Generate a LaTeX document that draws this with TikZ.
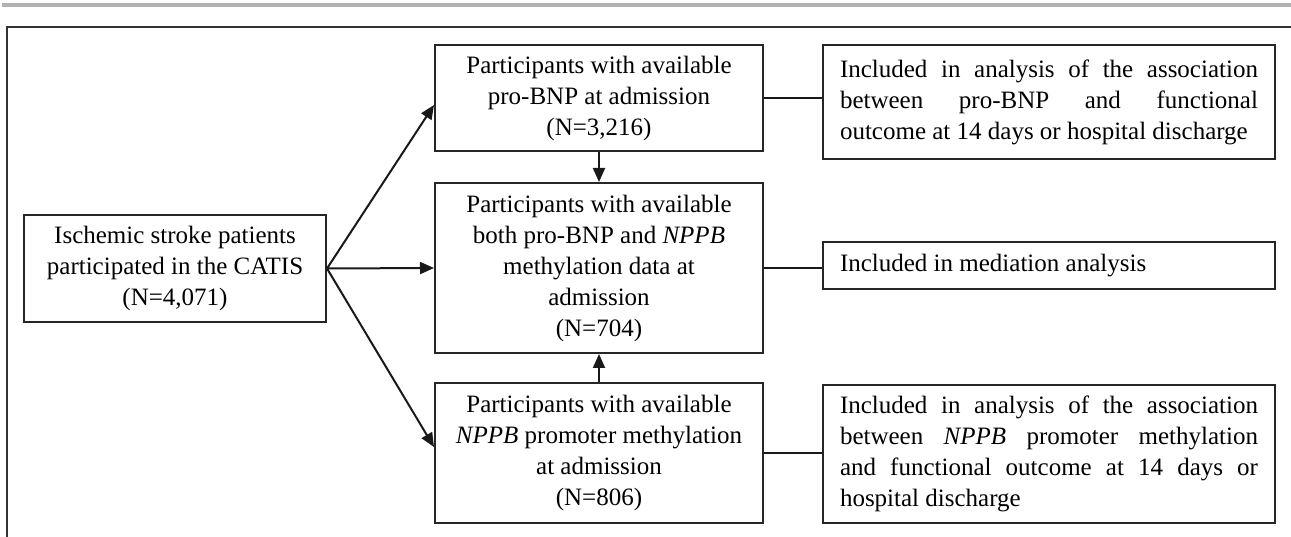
\documentclass[tikz,border=0pt]{standalone}
\usepackage{fontspec}
\setmainfont{Liberation Serif}
\usetikzlibrary{arrows.meta}
\usetikzlibrary{calc}
\usetikzlibrary{positioning}

\begin{document}
\begin{tikzpicture}[x=1pt, y=-1pt,
    box/.style={rectangle, draw=black!85, line width=2pt, align=center, inner sep=0pt, font=\fontsize{25}{31}\selectfont},
    note/.style={rectangle, draw=black!85, line width=2pt, text width=418pt, inner xsep=17pt, inner ysep=0pt, minimum width=452pt, align=justify, font=\fontsize{25}{31}\selectfont},
    flow/.style={line width=2pt, black!90, -{Triangle[length=14pt,width=12pt]}},
    link/.style={line width=2pt, black!90}]
    \useasboundingbox (0,0) rectangle (1291,537);
    \fill [black!30] (2,3) rectangle (1291,7);
    \draw [line width=2.5pt, black!80] (7,537) -- (7,27) -- (1291,27);

    \node [box, minimum width=302pt, minimum height=107pt] (patients) at (175,268.5) {Ischemic stroke patients\\participated in the CATIS\\(N=4,071)};

    \node [box, minimum width=328pt, minimum height=106pt] (probnp) at (599,98) {Participants with available\\pro-BNP at admission\\(N=3,216)};
    \node [box, minimum width=328pt, minimum height=170pt] (both) at (599,268) {Participants with available\\both pro-BNP and \textit{NPPB}\\methylation data at\\admission\\(N=704)};
    \node [box, minimum width=328pt, minimum height=140pt] (nppb) at (599,453) {Participants with available\\\textit{NPPB} promoter methylation\\at admission\\(N=806)};

    \node [note, minimum height=114pt] (outcome1) at (1049,102) {Included in analysis of the association\linebreak between pro-BNP and functional\linebreak outcome at 14 days or hospital discharge};
    \node [note, minimum height=47pt] (mediation) at (1049,265.5) {Included in mediation analysis};
    \node [note, minimum height=138pt] (outcome2) at (1049,454) {Included in analysis of the association\linebreak between \textit{NPPB} promoter methylation\linebreak and functional outcome at 14 days or\linebreak hospital discharge};

    \draw [flow] (patients.east) -- ($(probnp.west)+(0,7)$);
    \draw [flow] (patients.east) -- (both.west);
    \draw [flow] (patients.east) -- ($(nppb.west)+(0,-6)$);
    \draw [flow] (probnp.south) -- (both.north);
    \draw [flow] (nppb.north) -- (both.south);

    \draw [link] (probnp.east) -- (probnp.east -| outcome1.west);
    \draw [link] (both.east) -- (both.east -| mediation.west);
    \draw [link] (nppb.east) -- (nppb.east -| outcome2.west);
\end{tikzpicture}
\end{document}
